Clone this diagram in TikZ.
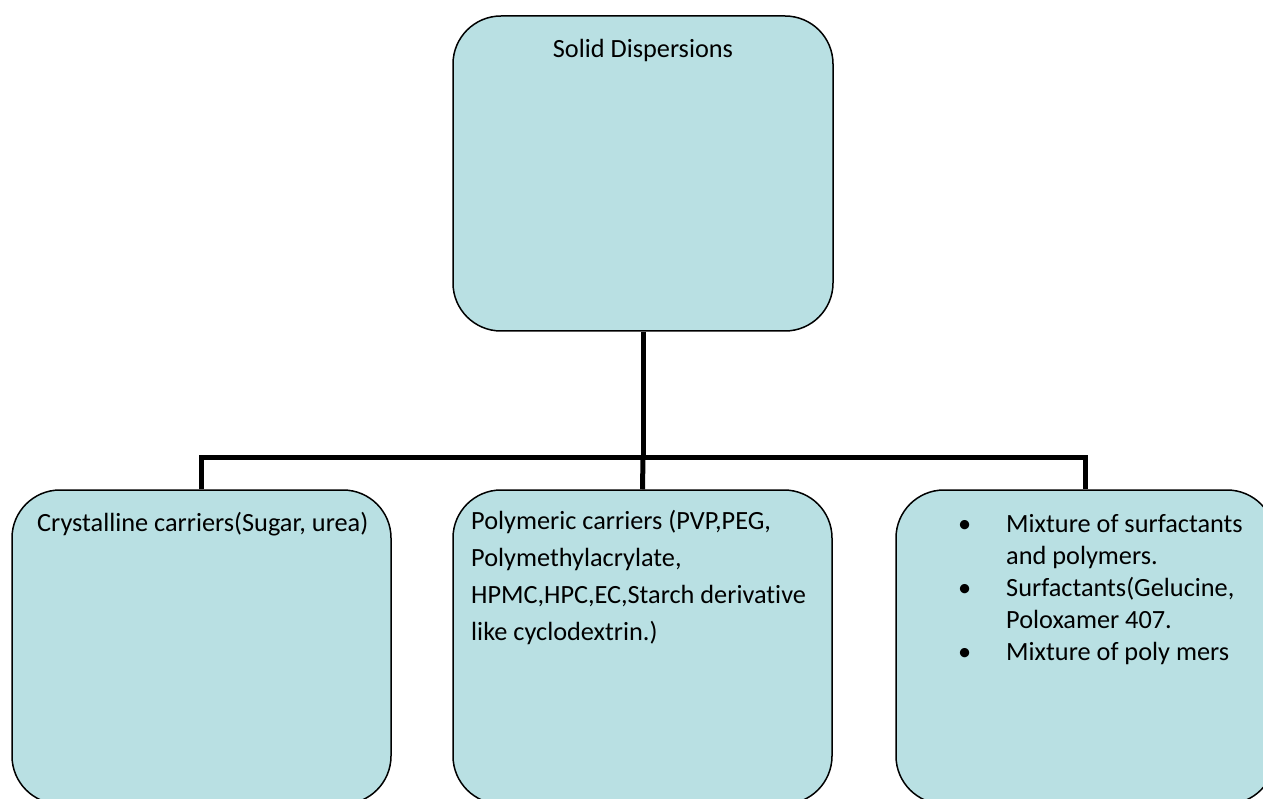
\documentclass[tikz,border=0pt]{standalone}
\usepackage{fontspec}
\setmainfont{Carlito}[Ligatures=NoCommon]
\definecolor{boxfill}{RGB}{185,224,227}
\tikzset{
  box/.style={draw=black, line width=1.5pt, fill=boxfill, rounded corners=48pt, inner sep=0pt},
  conn/.style={draw=black, line width=5pt},
  txt/.style={inner sep=0pt, font=\fontsize{26.3}{27}\selectfont}
}
\begin{document}
\begin{tikzpicture}[x=1pt,y=-1pt]
\useasboundingbox (0,0) rectangle (1263,799);
\clip (0,0) rectangle (1263,799);
\fill[white] (0,0) rectangle (1263,799);
% boxes
\node[box, minimum width=380pt, minimum height=315pt] (top) at (643,173.5) {};
\node[box, minimum width=379pt, minimum height=314pt] (left) at (201.5,647) {};
\node[box, minimum width=379pt, minimum height=314pt] (mid) at (642.5,647) {};
\node[box, minimum width=379pt, minimum height=314pt] (right) at (1085.5,647) {};
% connectors
\coordinate (j) at (643,457);
\draw[conn] (top.south) -- (j);
\draw[conn] (j) -- (mid.north);
\draw[conn] (left.north) |- (j) -| (right.north);
% texts
\node[txt, anchor=base] (ttop) at (643,58) {Solid Dispersions};
\node[txt, anchor=base west] (tleft) at (37,531) {Crystalline carriers(Sugar, urea)};
\node[txt, anchor=base west] (tmid) at (471,529) {\fontsize{26.3}{37}\selectfont\begin{tabular}[t]{@{}l@{}}Polymeric carriers (PVP,PEG,\\Polymethylacrylate,\\HPMC,HPC,EC,Starch derivative\\like cyclodextrin.)\end{tabular}};
\node[txt, anchor=base west] (tright) at (958,532) {\fontsize{26.3}{32}\selectfont\begin{tabular}[t]{@{}p{48pt}@{}l@{}}\textbullet & Mixture of surfactants\\ & and polymers.\\ \textbullet & Surfactants(Gelucine,\\ & Poloxamer 407.\\ \textbullet & Mixture of poly mers\end{tabular}};
\end{tikzpicture}
\end{document}
